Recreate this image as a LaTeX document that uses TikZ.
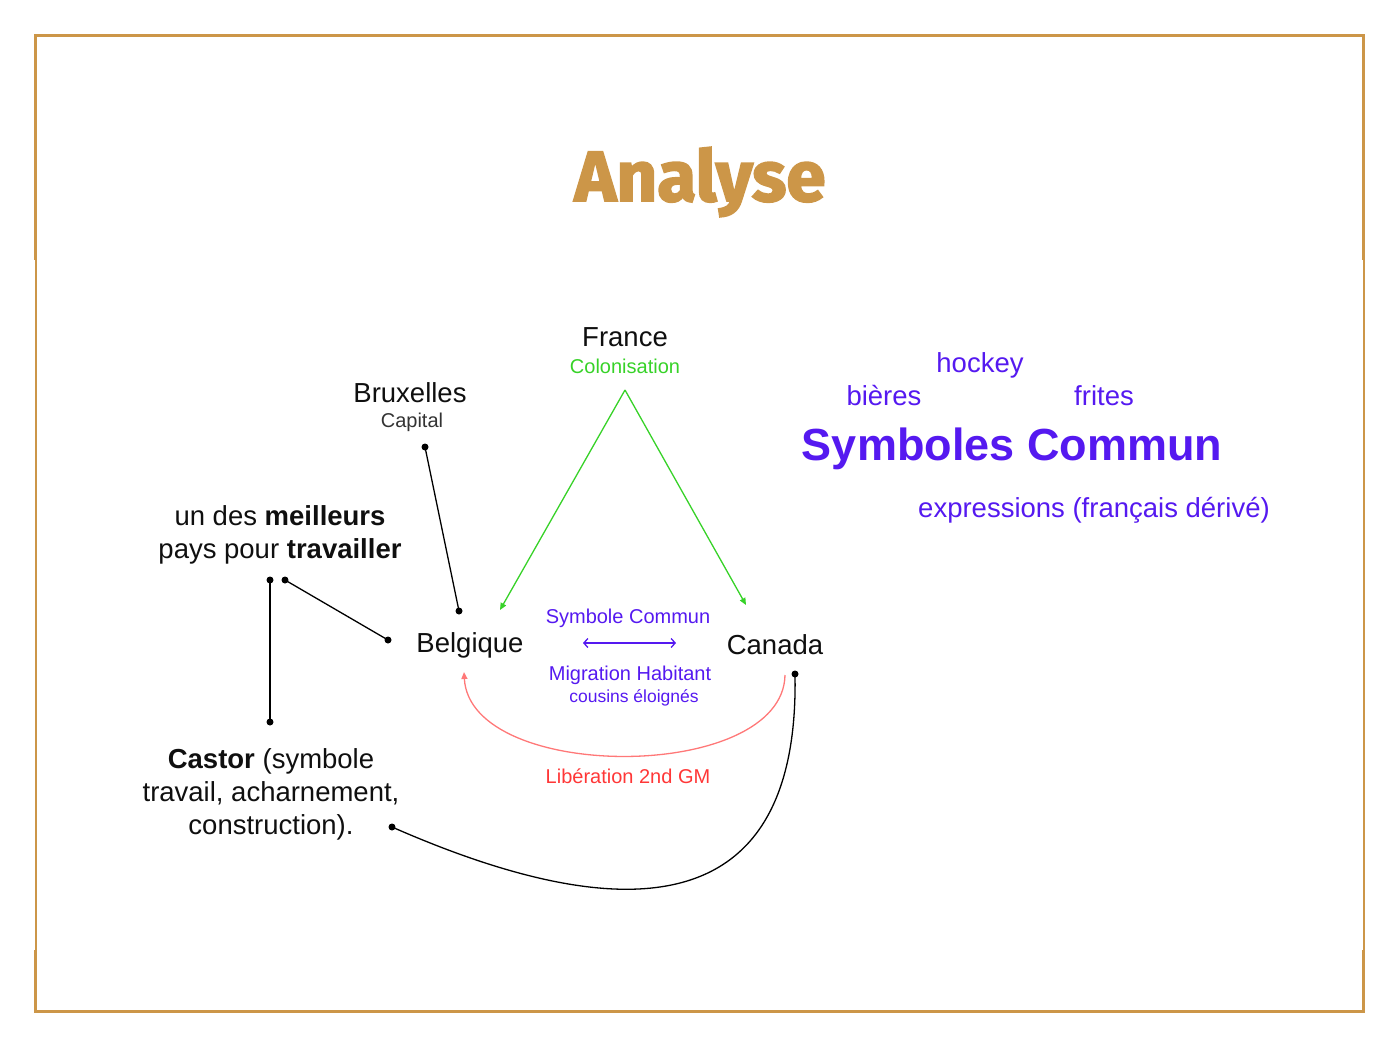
\documentclass[tikz,border=0pt]{standalone}
\usepackage{fontspec}
\setmainfont{Liberation Sans}
\newfontfamily\titlefont{Fira Sans}[BoldFeatures={FakeBold=2.5}]
\usetikzlibrary{arrows.meta}
\definecolor{gold}{RGB}{204,150,72}
\definecolor{grn}{RGB}{55,210,40}
\definecolor{purp}{RGB}{85,25,240}
\definecolor{redt}{RGB}{255,55,55}
\definecolor{redl}{RGB}{255,120,120}
\definecolor{txt}{RGB}{15,15,15}
\tikzset{
  lbl/.style={inner sep=0pt, text=txt, font=\fontsize{27.5}{33}\selectfont, align=center},
  sub/.style={inner sep=0pt, font=\fontsize{20}{22}\selectfont, align=center},
  pw/.style={inner sep=0pt, text=purp, font=\fontsize{27.5}{33}\selectfont},
  dotc/.style={fill=black, circle, inner sep=0pt, minimum size=7pt},
  link/.style={draw=black, line width=1.3pt},
}
\begin{document}
\begin{tikzpicture}[x=1pt,y=-1pt]
\useasboundingbox (0,0) rectangle (1400,1050);
% frame
\fill[gold] (34,34) rectangle (1365,37);
\fill[gold] (34,1010) rectangle (1365,1013);
\fill[gold] (34,34) rectangle (37,260);
\fill[gold] (34.5,260) rectangle (36.5,950);
\fill[gold] (34,950) rectangle (37,1013);
\fill[gold] (1362,34) rectangle (1365,260);
\fill[gold] (1363,260) rectangle (1365,950);
\fill[gold] (1362,950) rectangle (1365,1013);
% title
\node[inner sep=0pt, text=gold, font=\titlefont\bfseries\fontsize{71}{80}\selectfont] (title) at (700,182) {Analyse};
% main nodes
\node[lbl] (france) at (625,337) {France};
\node[sub, text=grn] (colon) at (625,366) {Colonisation};
\node[lbl] (brux) at (410,393) {Bruxelles};
\node[sub, text=txt!85] (capital) at (412,422) {Capital};
\node[lbl] (meil) at (280,535) {un des \textbf{meilleurs}\\ pays pour \textbf{travailler}};
\node[lbl] (belg) at (470,645) {Belgique};
\node[lbl] (canada) at (775,645) {Canada};
\node[sub, text=purp] (symc) at (628,618) {Symbole Commun};
\node[sub, text=purp] (migr) at (630,675) {Migration Habitant};
\node[inner sep=0pt, text=purp, font=\fontsize{17.5}{20}\selectfont] (cous) at (634,698) {cousins éloignés};
\node[sub, text=redt] (lib) at (628,776) {Libération 2nd GM};
\node[lbl] (castor) at (271,794) {\textbf{Castor} (symbole\\ travail, acharnement,\\ construction).};
% symbols
\node[pw] (hockey) at (980,365) {hockey};
\node[pw] (bieres) at (884,396) {bières};
\node[pw] (frites) at (1104,396) {frites};
\node[inner sep=0pt, text=purp, font=\bfseries\fontsize{45}{50}\selectfont] (symbs) at (1012,449) {Symboles Commun};
\node[pw] (expr) at (1094,510) {expressions (français dérivé)};
% coordinates
\coordinate (fTop) at (625,390);
\coordinate (bIn) at (500,610);
\coordinate (cIn) at (746,605);
\coordinate (brA) at (425,447);
\coordinate (brB) at (459,611);
\coordinate (mA) at (285,580);
\coordinate (mB) at (388,640);
\coordinate (vA) at (270,580);
\coordinate (vB) at (270,722);
\coordinate (caA) at (392,827);
\coordinate (caB) at (795,674);
\coordinate (rS) at (785,675);
\coordinate (rE) at (464,672);
\coordinate (pL) at (583,643);
\coordinate (pR) at (676,643);
% green arrows
\draw[grn, line width=1.3pt, -{Triangle[length=7pt,width=6pt]}] (fTop) -- (bIn);
\draw[grn, line width=1.3pt, -{Triangle[length=7pt,width=6pt]}] (fTop) -- (cIn);
% purple double arrow
\draw[purp, line width=1.3pt, {Straight Barb[length=4pt,width=9pt]}-{Straight Barb[length=4pt,width=9pt]}] (pL) -- (pR);
% red arc
\draw[redl, line width=1.3pt, -{Triangle[length=7pt,width=6pt]}] (rS) .. controls (783,783) and (470,783) .. (rE);
% black links
\draw[link] (brA) -- (brB);
\draw[link] (mA) -- (mB);
\draw[link] (vA) -- (vB);
\draw[link] (caA) .. controls (615,925) and (800,930) .. (caB);
\foreach \p in {brA,brB,mA,mB,vA,vB,caA,caB}
  \node[dotc] at (\p) {};
\end{tikzpicture}
\end{document}
